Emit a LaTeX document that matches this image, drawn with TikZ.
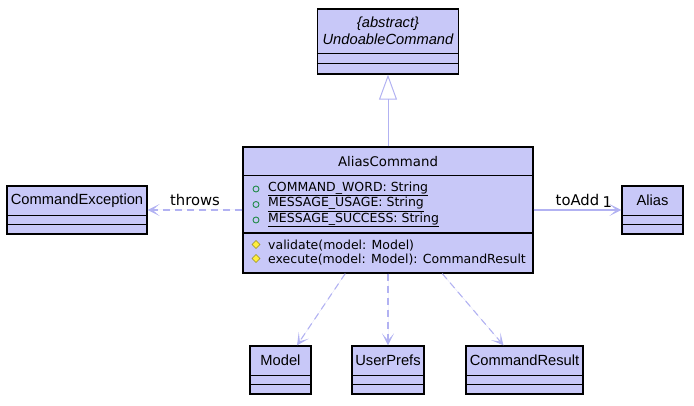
\documentclass[tikz,border=0pt]{standalone}
\usepackage{fontspec}
\setmainfont{Liberation Sans}
\newfontfamily\lucida{DejaVu Sans}
\usepackage{xcolor}
\usetikzlibrary{positioning,arrows.meta}

\definecolor{umlfill}{RGB}{200,200,248}
\definecolor{umledge}{RGB}{178,178,242}
\definecolor{pubgreen}{RGB}{35,140,75}
\definecolor{protyellow}{RGB}{255,238,60}

\begin{document}
\begin{tikzpicture}[x=1pt, y=-1pt, >={Stealth[length=12pt,width=12pt,inset=7pt]},
    umlclass/.style={draw=black, fill=umlfill, line width=1.3pt, inner sep=0pt},
    cname/.style={inner sep=0pt, minimum height=30pt, font=\fontsize{14.7}{17}\selectfont},
    member/.style={anchor=west, inner sep=0pt, font=\lucida\fontsize{12.5}{14}\selectfont},
    lbl/.style={font=\lucida\fontsize{14.8}{17}\selectfont, inner sep=1pt},
    dep/.style={->, draw=umledge, fill=umledge, line width=1.1pt, dash pattern=on 7pt off 5pt},
    assoc/.style={->, draw=umledge, fill=umledge, line width=1.1pt},
    inherit/.style={-{Triangle[open, length=25pt, width=18pt]}, draw=umledge, line width=1pt}]

  \useasboundingbox (0,0) rectangle (694,406);

  % classes
  \node[umlclass, minimum width=141pt, minimum height=65pt] (undo) at (388,41.5) {};
  \node[cname, minimum height=45pt, align=center, font=\itshape\fontsize{14.7}{17}\selectfont, below=0pt of undo.north] (undoName) {\{abstract\}\\UndoableCommand};

  \node[umlclass, minimum width=290pt, minimum height=126pt] (aliascmd) at (388,210) {};
  \node[cname, minimum height=29pt, font=\lucida\fontsize{13.3}{16}\selectfont, below=0pt of aliascmd.north] (aliascmdName) {AliasCommand};
  \coordinate (attrEnd) at (aliascmd.west |- 0,233);

  \node[umlclass, minimum width=140pt, minimum height=48pt] (cmdexc) at (77,210) {};
  \node[cname, below=0pt of cmdexc.north] (cmdexcName) {CommandException};

  \node[umlclass, minimum width=61pt, minimum height=48pt] (alias) at (652.5,210) {};
  \node[cname, below=0pt of alias.north] (aliasName) {Alias};

  \node[umlclass, minimum width=61pt, minimum height=48pt] (model) at (280.5,370) {};
  \node[cname, below=0pt of model.north] (modelName) {Model};

  \node[umlclass, minimum width=72pt, minimum height=48pt] (prefs) at (388,370) {};
  \node[cname, below=0pt of prefs.north] (prefsName) {UserPrefs};

  \node[umlclass, minimum width=117pt, minimum height=48pt] (result) at (524.5,370) {};
  \node[cname, below=0pt of result.north] (resultName) {CommandResult};

  % compartments
  \draw[line width=1.3pt] (undoName.south -| undo.west) -- (undoName.south -| undo.east)
    ([yshift=-10pt]undoName.south -| undo.west) -- ([yshift=-10pt]undoName.south -| undo.east);
  \draw[line width=1.3pt] (aliascmdName.south -| aliascmd.west) -- (aliascmdName.south -| aliascmd.east)
    (attrEnd) -- (attrEnd -| aliascmd.east);
  \foreach \c in {cmdexc, alias, model, prefs, result}
    \draw[line width=1.3pt] (\c Name.south -| \c.west) -- (\c Name.south -| \c.east)
      ([yshift=-9pt]\c Name.south -| \c.west) -- ([yshift=-9pt]\c Name.south -| \c.east);

  % members
  \node[member] (a1) at (268,189) {\underline{COMMAND\_WORD: String}};
  \node[member] (a2) at (268,204.5) {\underline{MESSAGE\_USAGE: String}};
  \node[member] (a3) at (268,220) {\underline{MESSAGE\_SUCCESS: String}};
  \node[member] (m1) at (268,246) {validate(model: Model)};
  \node[member] (m2) at (268,260) {execute(model: Model): CommandResult};
  \foreach \y in {189,204.5,220}
    \draw[pubgreen, line width=0.9pt] (256,\y) circle (3);
  \foreach \y in {244.5,258.5}
    \draw[protyellow!60!black, fill=protyellow, line width=0.6pt]
      (256,\y-4) -- (260,\y) -- (256,\y+4) -- (252,\y) -- cycle;

  % relations
  \draw[inherit] (aliascmd) -- (undo);
  \draw[dep] (aliascmd) -- node[lbl, above=3pt, draw=none, fill=none] {throws} (cmdexc);
  \draw[assoc] (aliascmd) -- node[lbl, above=3pt, pos=0.5, draw=none, fill=none] {toAdd}
    node[lbl, above=1pt, pos=0.84, draw=none, fill=none] {1} (alias);
  \draw[dep] (aliascmd) -- (model);
  \draw[dep] (aliascmd) -- (prefs);
  \draw[dep] (aliascmd) -- (result);
\end{tikzpicture}
\end{document}
